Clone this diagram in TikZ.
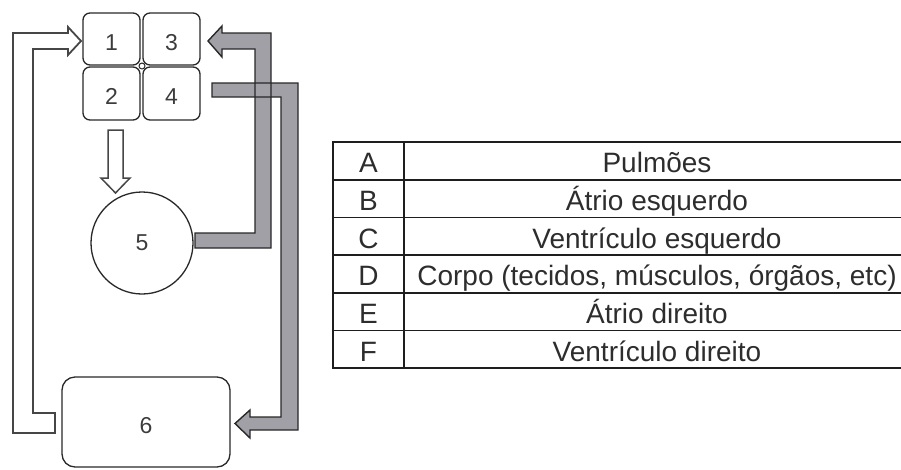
\documentclass[tikz,border=0pt]{standalone}
\usepackage{fontspec}
\setmainfont{Liberation Sans}
\begin{document}
\begin{tikzpicture}[x=1pt,y=-1pt,
  ink/.style={draw={rgb,255:red,40;green,40;blue,40}},
  box/.style={ink,line width=1.3pt,rounded corners=7pt,minimum width=57pt,minimum height=52pt,
    inner sep=0pt,text height=22pt,text depth=0pt,text={rgb,255:red,60;green,60;blue,60},font=\fontsize{23}{26}\selectfont},
  grayarrow/.style={fill={rgb,255:red,160;green,160;blue,166}},
  grayline/.style={ink,line width=1.4pt,line join=miter},
  whitearrow/.style={fill=white,draw={rgb,255:red,70;green,70;blue,70},line width=1.8pt,line join=miter},
  tab/.style={draw={rgb,255:red,30;green,30;blue,30},line width=1.6pt},
  tt/.style={font=\fontsize{28}{30}\selectfont,text={rgb,255:red,45;green,45;blue,45},inner sep=0pt,anchor=base}]
\useasboundingbox (0,0) rectangle (901,469);
\clip (0,0) rectangle (901,469);

% heart chambers
\node[box] (b1) at (111.5,39) {1};
\node[box] (b3) at (171.5,39) {3};
\node[box,minimum height=53pt] (b2) at (111.5,93.5) {2};
\node[box,minimum height=53pt] (b4) at (171.5,93.5) {4};
\draw[ink,fill=white,line width=1pt] (142,66) circle (3);

% circle 5 and box 6
\node[circle,ink,line width=1.3pt,minimum size=102pt,inner sep=0pt,text={rgb,255:red,60;green,60;blue,60},font=\fontsize{23}{26}\selectfont] (c5) at (142,243) {5};
\node[box,minimum width=168pt,minimum height=90pt,rounded corners=13pt] (b6) at (146,422) {6};

% arrow 2 -> 5 (hollow)
\draw[whitearrow,line width=1.5pt] (108,130) -- (123,130) -- (123,178) -- (130,178) -- (115.5,193) -- (101,178) -- (108,178) -- cycle;

% gray arrows: fills first, then outlines
\fill[grayarrow] (195,233) -- (255,233) -- (255,49) -- (222,49) -- (222,57) -- (208,41) -- (222,26) -- (222,33) -- (271,33) -- (271,248) -- (195,248) -- cycle;
\fill[grayarrow] (212,83) -- (298,83) -- (298,430) -- (250,430) -- (250,438) -- (235,423.5) -- (250,410) -- (250,417) -- (281,417) -- (281,97) -- (212,97) -- cycle;
\draw[grayline] (195,233) -- (255,233) -- (255,49) -- (222,49) -- (222,57) -- (208,41) -- (222,26) -- (222,33) -- (271,33) -- (271,248) -- (195,248) -- cycle;
\draw[grayline] (212,83) -- (298,83) -- (298,430) -- (250,430) -- (250,438) -- (235,423.5) -- (250,410) -- (250,417) -- (281,417) -- (281,97) -- (212,97) -- cycle;

% white arrow 6 -> 1
\draw[whitearrow] (55,433) -- (13,433) -- (13,33) -- (68,33) -- (68,27) -- (81,41) -- (68,55) -- (68,49) -- (33,49) -- (33,413) -- (55,413) -- cycle;

% table
\draw[tab] (333,142) rectangle (910,368);
\draw[tab] (404,142) -- (404,368);
\foreach \yy in {179.7,217.3,255,292.7,330.3} \draw[tab] (333,\yy) -- (910,\yy);

\node[tt] (la) at (368.5,172.8) {A};
\node[tt] (lb) at (368.5,210.5) {B};
\node[tt] (lc) at (368.5,248.2) {C};
\node[tt] (ld) at (368.5,285.8) {D};
\node[tt] (le) at (368.5,323.5) {E};
\node[tt] (lf) at (368.5,361.2) {F};
\node[tt] (ta) at (657,172.8) {Pulmões};
\node[tt] (tb) at (657,210.5) {Átrio esquerdo};
\node[tt] (tc) at (657,248.2) {Ventrículo esquerdo};
\node[tt] (td) at (657,285.8) {Corpo (tecidos, músculos, órgãos, etc)};
\node[tt] (te) at (657,323.5) {Átrio direito};
\node[tt] (tf) at (657,361.2) {Ventrículo direito};
\end{tikzpicture}
\end{document}
